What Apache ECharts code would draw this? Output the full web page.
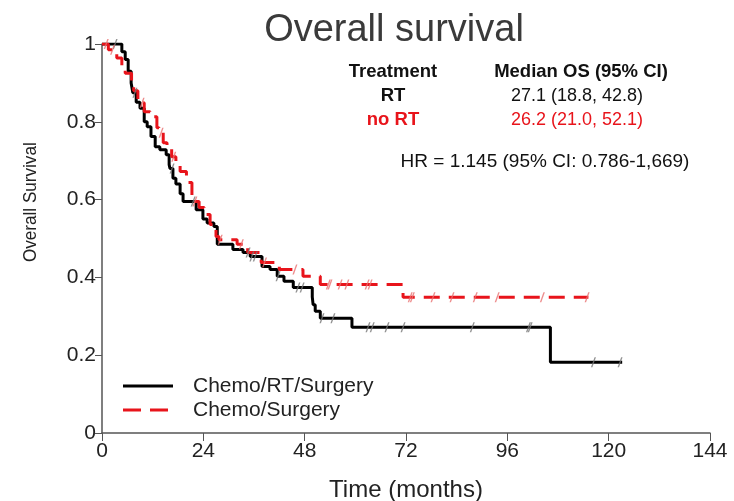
<!DOCTYPE html>
<html><head><meta charset="utf-8">
<script src="https://cdn.jsdelivr.net/npm/echarts@6/dist/echarts.min.js"></script>
<style>html,body{margin:0;padding:0;background:#fff}#c{width:734px;height:501px}</style>
</head><body><div id="c"></div>
<script>
// Kaplan-Meier steps: [month, survival from that month on]
const rtSteps = [[0,1],[4.7,0.98],[5.5,0.96],[6.2,0.93],[6.9,0.90],[7.3,0.875],[8.1,0.85],[9.0,0.835],[10.0,0.80],[10.7,0.787],[11.6,0.762],[12.6,0.736],[13.7,0.728],[15.2,0.715],[15.9,0.69],[16.1,0.68],[16.8,0.655],[17.5,0.64],[18.5,0.615],[19.2,0.595],[22.3,0.574],[23.9,0.55],[24.9,0.54],[26.5,0.531],[27.3,0.485],[31.0,0.472],[33.4,0.464],[35.1,0.454],[37.9,0.428],[39.8,0.42],[41.5,0.403],[43.1,0.39],[45.3,0.374],[49.8,0.35],[50.0,0.33],[50.5,0.313],[51.7,0.295],[59.2,0.272],[106.2,0.182],[123.2,0.182]];
const noRtSteps = [[0,1],[1.5,0.985],[3.5,0.964],[4.7,0.94],[5.5,0.925],[7.0,0.895],[7.5,0.88],[8.5,0.856],[9.2,0.849],[10.0,0.826],[11.4,0.813],[13.0,0.785],[13.5,0.772],[14.5,0.746],[15.4,0.733],[16.5,0.71],[17.5,0.695],[18.5,0.672],[20.0,0.644],[21.3,0.595],[23.0,0.58],[24.2,0.562],[25.6,0.536],[27.0,0.505],[27.7,0.497],[32.0,0.485],[34.5,0.464],[37.7,0.438],[42.0,0.42],[47.6,0.403],[51.7,0.382],[71.3,0.349],[115.2,0.349]];
// censoring times (months)
const rtCensor = [3.1,7.8,16.6,21.6,34.6,35.5,36.3,41.7,46.4,47.4,52.1,54.7,63,64,67.5,71.3,87.7,101,101.4,116.4,122.7];
const noRtCensor = [1.0,2.5,9.5,14.0,17.0,22.0,28.0,33.0,38.5,45.7,53.6,54,56.4,58,62.8,63.5,73,73.5,78.4,82.9,88.4,93.6,104.3,114.9];
const xTicks = [0,24,48,72,96,120,144];
const seriesNames = ['Chemo/RT/Surgery','Chemo/Surgery'];
const tableHead = ['Treatment','Median OS (95% CI)'];
const tableRows = [['RT','27.1 (18.8, 42.8)'],['no RT','26.2 (21.0, 52.1)']];
const hrText = 'HR = 1.145 (95% CI: 0.786-1,669)';

function survAt(steps, t){ let s = steps[0][1]; for (const p of steps){ if (p[0] <= t) s = p[1]; } return s; }
const tickPath = 'path://M0,10 L3,0 L4.2,0 L1.2,10 Z';
const F = "'Liberation Sans', Arial, sans-serif";
const RED = '#e8141b';

const chart = echarts.init(document.getElementById('c'), null, {renderer:'canvas'});
chart.setOption({
  animation:false,
  backgroundColor:'#fff',
  title:{text:'Overall survival', left:389, textAlign:'center', top:7,
    textStyle:{fontFamily:F, fontSize:38, fontWeight:'normal', color:'#3a3a3a'}},
  grid:{left:102, right:24, top:44, bottom:68, outerBoundsMode:'none', containLabel:false},
  xAxis:{type:'value', min:0, max:144, interval:24,
    name:'Time (months)', nameLocation:'middle', nameGap:45,
    nameTextStyle:{fontFamily:F, fontSize:24, color:'#222', verticalAlign:'top'},
    axisLine:{lineStyle:{color:'#555', width:1.5}},
    axisTick:{length:8, lineStyle:{color:'#555'}},
    axisLabel:{fontFamily:F, fontSize:21, color:'#222', margin:8},
    splitLine:{show:false}},
  yAxis:{type:'value', min:0, max:1, interval:0.2,
    axisLine:{show:true, lineStyle:{color:'#555', width:1.5}},
    axisTick:{show:true, length:7, lineStyle:{color:'#555'}},
    axisLabel:{fontFamily:F, fontSize:21, color:'#222', margin:6,
      formatter:v=> (v===0?'0':v===1?'1':v.toFixed(1))},
    splitLine:{show:false}},
  graphic:[
    {type:'text', x:21, y:262, rotation:Math.PI/2, scaleX:0.9, style:{text:'Overall Survival', font:"19px "+F, fill:'#222'}},
    {type:'text', x:393, y:72, style:{text:tableHead[0], font:"bold 18.5px "+F, fill:'#111', align:'center', verticalAlign:'middle'}},
    {type:'text', x:581, y:72, style:{text:tableHead[1], font:"bold 18.5px "+F, fill:'#111', align:'center', verticalAlign:'middle'}},
    {type:'text', x:393, y:96, style:{text:tableRows[0][0], font:"bold 18.5px "+F, fill:'#111', align:'center', verticalAlign:'middle'}},
    {type:'text', x:577, y:96, style:{text:tableRows[0][1], font:"18px "+F, fill:'#111', align:'center', verticalAlign:'middle'}},
    {type:'text', x:393, y:120, style:{text:tableRows[1][0], font:"bold 18.5px "+F, fill:RED, align:'center', verticalAlign:'middle'}},
    {type:'text', x:577, y:120, style:{text:tableRows[1][1], font:"18px "+F, fill:RED, align:'center', verticalAlign:'middle'}},
    {type:'text', x:545, y:162, style:{text:hrText, font:"19px "+F, fill:'#111', align:'center', verticalAlign:'middle'}},
    {type:'line', shape:{x1:123, y1:386, x2:173, y2:386}, style:{stroke:'#000', lineWidth:3}},
    {type:'line', shape:{x1:123, y1:410, x2:173, y2:410}, style:{stroke:RED, lineWidth:3, lineDash:[18,9]}},
    {type:'text', x:193, y:386, style:{text:seriesNames[0], font:"21px "+F, fill:'#222', verticalAlign:'middle'}},
    {type:'text', x:193, y:410, style:{text:seriesNames[1], font:"21px "+F, fill:'#222', verticalAlign:'middle'}}
  ],
  series:[
    {name:seriesNames[0], type:'line', step:'end', data:rtSteps, symbol:'none', z:3,
      lineStyle:{color:'#000', width:3}, itemStyle:{color:'#000'}},
    {name:seriesNames[1], type:'line', step:'end', data:noRtSteps, symbol:'none', z:4,
      lineStyle:{color:RED, width:3, type:[16,9]}, itemStyle:{color:RED}},
    {name:'rtCens', type:'scatter', data:rtCensor.map(t=>[t,survAt(rtSteps,t)]), symbol:tickPath, symbolSize:[5,10], z:5,
      itemStyle:{color:'#777'}},
    {name:'noRtCens', type:'scatter', data:noRtCensor.map(t=>[t,survAt(noRtSteps,t)]), symbol:tickPath, symbolSize:[5,10], z:5,
      itemStyle:{color:'#e87070'}}
  ]
});
</script></body></html>
